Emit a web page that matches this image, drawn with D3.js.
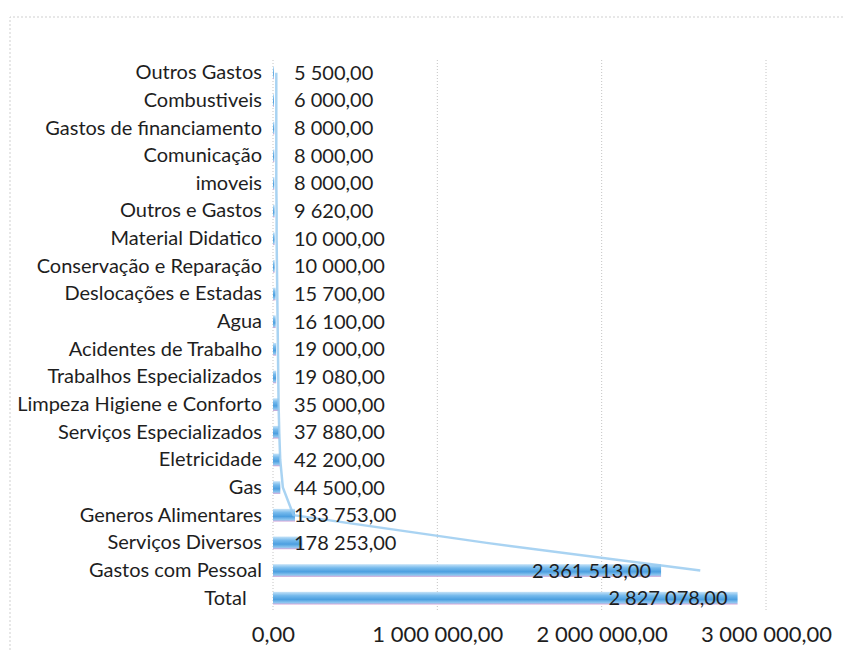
<!DOCTYPE html>
<html>
<head>
<meta charset="utf-8">
<title>Despesas</title>
<script src="https://cdn.jsdelivr.net/npm/d3@7"></script>
<style>
  body { margin: 0; background: #fff; }
  text { font-family: Lato, sans-serif; fill: #1e1e1e; white-space: pre; }
</style>
</head>
<body>
<div id="chart"></div>
<script>
// categories top to bottom (the original "Total" label carries trailing spaces)
var categories = [
  "Outros Gastos", "Combustiveis", "Gastos de financiamento", "Comunicação",
  "imoveis", "Outros e Gastos", "Material Didatico", "Conservação e Reparação",
  "Deslocações e Estadas", "Agua", "Acidentes de Trabalho", "Trabalhos Especializados",
  "Limpeza Higiene e Conforto", "Serviços Especializados", "Eletricidade", "Gas",
  "Generos Alimentares", "Serviços Diversos", "Gastos com Pessoal", "Total   "
];
var values = [
  5500, 6000, 8000, 8000, 8000, 9620, 10000, 10000, 15700, 16100,
  19000, 19080, 35000, 37880, 42200, 44500, 133753, 178253, 2361513, 2827078
];
// faint line series (ends at Gastos com Pessoal)
var lineValues = [
  20000, 20000, 20000, 20000, 20000, 22000, 22000, 24000, 26000, 28000,
  30000, 32000, 34000, 38000, 44000, 60000, 125000, 1300000, 2600000
];
var tickValues = [0, 1000000, 2000000, 3000000];

var W = 843, H = 658;
var svg = d3.select("#chart").append("svg")
    .attr("width", W).attr("height", H);

var pt = d3.formatLocale({decimal: ",", thousands: " ", grouping: [3], currency: ["", ""]});
var fmt = pt.format(",.2f");

// chart frame (dotted scan border)
svg.append("path")
    .attr("d", "M10,650 V17 H843")
    .attr("fill", "none")
    .attr("stroke", "#cfcfcf")
    .attr("stroke-dasharray", "2,2");

var x = d3.scaleLinear().domain([0, 3000000]).range([273, 766]);
var y = d3.scaleBand().domain(categories).range([59, 612]).paddingInner(0.54).paddingOuter(0.27);

var defs = svg.append("defs");
var grad = defs.append("linearGradient").attr("id", "barGrad")
    .attr("x1", 0).attr("y1", 0).attr("x2", 0).attr("y2", 1);
grad.append("stop").attr("offset", "0%").attr("stop-color", "#c6e3f8");
grad.append("stop").attr("offset", "30%").attr("stop-color", "#74b9ec");
grad.append("stop").attr("offset", "60%").attr("stop-color", "#4c9fe0");
grad.append("stop").attr("offset", "85%").attr("stop-color", "#8ec6ef");
grad.append("stop").attr("offset", "100%").attr("stop-color", "#d6a8d8");

// vertical gridlines
svg.append("g").selectAll("line").data(tickValues).join("line")
    .attr("x1", d => x(d)).attr("x2", d => x(d))
    .attr("y1", 60).attr("y2", 612)
    .attr("stroke", "#c4c4c4")
    .attr("stroke-dasharray", "1,2");

// x axis
var xAxis = svg.append("g")
    .attr("transform", "translate(0,624)")
    .call(d3.axisBottom(x).tickValues(tickValues).tickFormat(fmt).tickSize(0).tickPadding(2));
xAxis.select(".domain").remove();
xAxis.selectAll("text").attr("font-size", 22).attr("fill", "#1e1e1e")
    .attr("font-family", "Lato, sans-serif");

// y axis labels
var yAxis = svg.append("g")
    .attr("transform", "translate(262,0)")
    .call(d3.axisLeft(y).tickSize(0).tickPadding(0));
yAxis.select(".domain").remove();
yAxis.selectAll("text").attr("font-size", 20).attr("fill", "#1e1e1e")
    .attr("font-family", "Lato, sans-serif");

// bars
svg.append("g").selectAll("rect").data(values).join("rect")
    .attr("x", x(0))
    .attr("y", (d, i) => y(categories[i]))
    .attr("width", d => x(d) - x(0))
    .attr("height", y.bandwidth())
    .attr("fill", "url(#barGrad)");

// line series
var line = d3.line()
    .x(d => x(d))
    .y((d, i) => y(categories[i]) + y.bandwidth() / 2);
svg.append("path")
    .datum(lineValues)
    .attr("d", line)
    .attr("fill", "none")
    .attr("stroke", "#93c8ef")
    .attr("stroke-width", 2.5)
    .attr("opacity", 0.8);

// value labels
svg.append("g").selectAll("text").data(values).join("text")
    .attr("x", d => x(d) - x(0) > 140 ? x(d) - 10 : x(0) + 21)
    .attr("y", (d, i) => y(categories[i]) + y.bandwidth() / 2)
    .attr("dy", "0.35em")
    .attr("text-anchor", d => x(d) - x(0) > 140 ? "end" : "start")
    .attr("font-size", 20)
    .text(d => fmt(d));
</script>
</body>
</html>
